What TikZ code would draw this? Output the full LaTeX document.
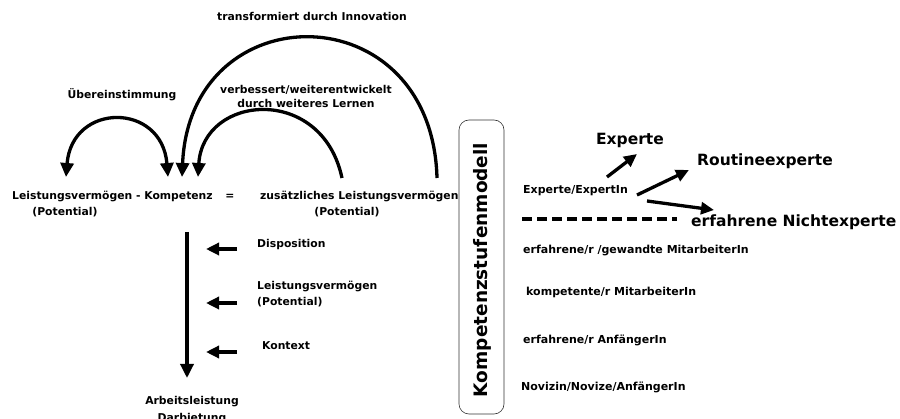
\documentclass[tikz,border=0pt]{standalone}
\usepackage{fontspec}
\setmainfont{DejaVu Sans}
\usetikzlibrary{arrows.meta}
\begin{document}
\begin{tikzpicture}[x=1pt,y=-1pt,
  lbl/.style={font=\fontsize{10.8}{12}\selectfont\bfseries, inner sep=0pt},
  big/.style={font=\fontsize{15.5}{18}\selectfont\bfseries, inner sep=0pt},
  head/.style={Triangle[length=14pt,width=13pt]},
  thick arrow/.style={line width=3.3pt, -{Triangle[length=14pt,width=13pt]}},
  both arrow/.style={line width=3.3pt, {Triangle[length=14pt,width=13pt]}-{Triangle[length=14pt,width=13pt]}},
  small arrow/.style={line width=3.3pt, -{Triangle[length=13pt,width=12pt]}},
  tier/.style={font=\fontsize{11}{12}\selectfont\bfseries, inner sep=0pt, anchor=mid west},
]
\useasboundingbox (0,0) rectangle (900,419);

% --- left part: labels ---
\node[lbl] (trans) at (312,16) {transformiert durch Innovation};
\node[lbl] (ueber) at (122,95) {Übereinstimmung};
\node[lbl] (verb1) at (306,90) {verbessert/weiterentwickelt};
\node[lbl] (verb2) at (306,103) {durch weiteres Lernen};

\node[lbl, anchor=mid west] (lk) at (12,197) {Leistungsvermögen - Kompetenz};
\node[lbl] (eq) at (230,197) {=};
\node[lbl, anchor=mid west] (zl) at (260,197) {zusätzliches Leistungsvermögen};
\node[lbl] (potL) at (65,212) {(Potential)};
\node[lbl] (potR) at (347,212) {(Potential)};

% arc end points
\coordinate (ueL) at (66,177);
\coordinate (ueR) at (168,177);
\coordinate (vbS) at (342,178);
\coordinate (vbE) at (198,177);
\coordinate (trS) at (437,178);
\coordinate (trE) at (182,177);

\draw[both arrow] (ueL) .. controls (72,102) and (162,102) .. (ueR);
\draw[thick arrow] (vbS) .. controls (322,84) and (203,94) .. (vbE);
\draw[thick arrow] (trS) .. controls (432,-8) and (190,-8) .. (trE);

% --- influences on performance ---
\coordinate (vTop) at (187,232);
\coordinate (vBot) at (187,378);
\draw[thick arrow] (vTop) -- (vBot);

\node[lbl, anchor=mid west] (disp) at (257,245) {Disposition};
\node[lbl, anchor=mid west] (lv1) at (257,287) {Leistungsvermögen};
\node[lbl, anchor=mid west] (lv2) at (257,303) {(Potential)};
\node[lbl, anchor=mid west] (kon) at (262,347) {Kontext};

\coordinate (a1s) at (237,249); \coordinate (a1e) at (206,249);
\coordinate (a2s) at (237,303); \coordinate (a2e) at (206,303);
\coordinate (a3s) at (237,352); \coordinate (a3e) at (206,352);
\draw[small arrow] (a1s) -- (a1e);
\draw[small arrow] (a2s) -- (a2e);
\draw[small arrow] (a3s) -- (a3e);

\node[lbl] (arb1) at (192,402) {Arbeitsleistung};
\node[lbl] (arb2) at (192,419) {Darbietung};

% --- competence level model ---
\draw[line width=0.6pt, rounded corners=10pt, draw=black!80] (459,120) rectangle (504,414);
\node[font=\fontsize{18.5}{20}\selectfont\bfseries, rotate=90, inner sep=0pt] (ksm) at (482,270) {Kompetenzstufenmodell};

\node[big] (exp) at (630,140) {Experte};
\node[big, anchor=mid west] (rout) at (697,163) {Routineexperte};
\node[big, anchor=mid west] (nicht) at (691,224) {erfahrene Nichtexperte};
\node[tier] (ex) at (523,191) {Experte/ExpertIn};

\coordinate (e1s) at (607,177); \coordinate (e1e) at (637,154);
\coordinate (e2s) at (637,195); \coordinate (e2e) at (689,170);
\coordinate (e3s) at (647,201); \coordinate (e3e) at (714,210);
\draw[small arrow] (e1s) -- (e1e);
\draw[small arrow] (e2s) -- (e2e);
\draw[small arrow] (e3s) -- (e3e);

\coordinate (dS) at (522,219); \coordinate (dE) at (677,219);
\draw[line width=3.3pt, dash pattern=on 10pt off 5pt] (dS) -- (dE);

\node[tier] (t4) at (523,251) {erfahrene/r /gewandte MitarbeiterIn};
\node[tier] (t3) at (526,293) {kompetente/r MitarbeiterIn};
\node[tier] (t2) at (523,341) {erfahrene/r AnfängerIn};
\node[tier] (t1) at (521,388) {Novizin/Novize/AnfängerIn};
\end{tikzpicture}
\end{document}
